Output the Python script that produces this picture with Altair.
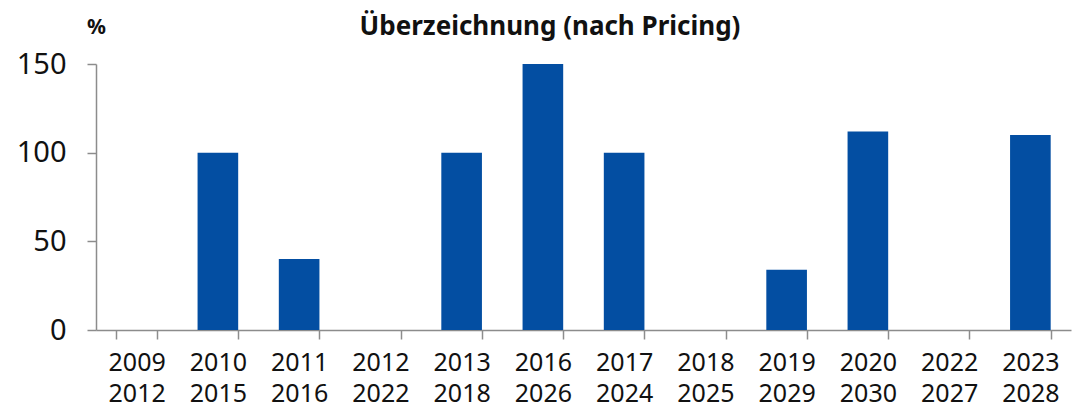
import altair as alt
import pandas as pd

start_years = ["2009", "2010", "2011", "2012", "2013", "2016", "2017", "2018", "2019", "2020", "2022", "2023"]
end_years = ["2012", "2015", "2016", "2022", "2018", "2026", "2024", "2025", "2029", "2030", "2027", "2028"]
values = [0, 100, 40, 0, 100, 150, 100, 0, 34, 112, 0, 110]
title_text = "Überzeichnung (nach Pricing)"

categories = [f"{a} {b}" for a, b in zip(start_years, end_years)]
df = pd.DataFrame({"period": categories, "value": values})

FONT = "Noto Sans"

bars = alt.Chart(df).mark_bar(color="#034EA2").encode(
    x=alt.X(
        "period:N",
        sort=categories,
        scale=alt.Scale(paddingInner=0.5, paddingOuter=0.25),
        axis=alt.Axis(
            title=None,
            labelAngle=0,
            labelExpr="split(datum.label, ' ')",
            labelFontSize=25,
            labelLineHeight=31,
            labelColor="#111111",
            labelFont=FONT,
            labelPadding=11,
            tickBand="extent",
            tickSize=9,
            tickColor="#8c8c8c",
            domainColor="#8c8c8c",
            domainWidth=1.5,
            tickWidth=1.5,
        ),
    ),
    y=alt.Y(
        "value:Q",
        scale=alt.Scale(domain=[0, 150], nice=False),
        axis=alt.Axis(
            values=[0, 50, 100, 150],
            title="%",
            titleAngle=0,
            titleX=0,
            titleY=-31,
            titleAlign="center",
            titleBaseline="alphabetic",
            titleFontSize=21,
            titleFontWeight="bold",
            titleFont=FONT,
            titleColor="#111111",
            labelFontSize=29,
            labelFont=FONT,
            labelColor="#111111",
            labelPadding=21,
            grid=False,
            tickSize=9,
            tickColor="#8c8c8c",
            domainColor="#8c8c8c",
            domainWidth=1.5,
            tickWidth=1.5,
        ),
    ),
)

title = alt.Chart(pd.DataFrame({"t": [title_text]})).mark_text(
    font=FONT,
    fontSize=26,
    fontWeight="bold",
    color="#111111",
    align="center",
    baseline="alphabetic",
).encode(
    text="t:N",
    x=alt.value(454),
    y=alt.value(-29),
)

chart = alt.layer(bars, title).properties(
    width=975,
    height=266,
    autosize=alt.AutoSizeParams(type="none"),
    padding={"left": 88, "top": 56, "right": 4, "bottom": 78},
).configure_view(stroke=None)

chart.save("out.html", embed_options={"renderer": "svg", "actions": False})
